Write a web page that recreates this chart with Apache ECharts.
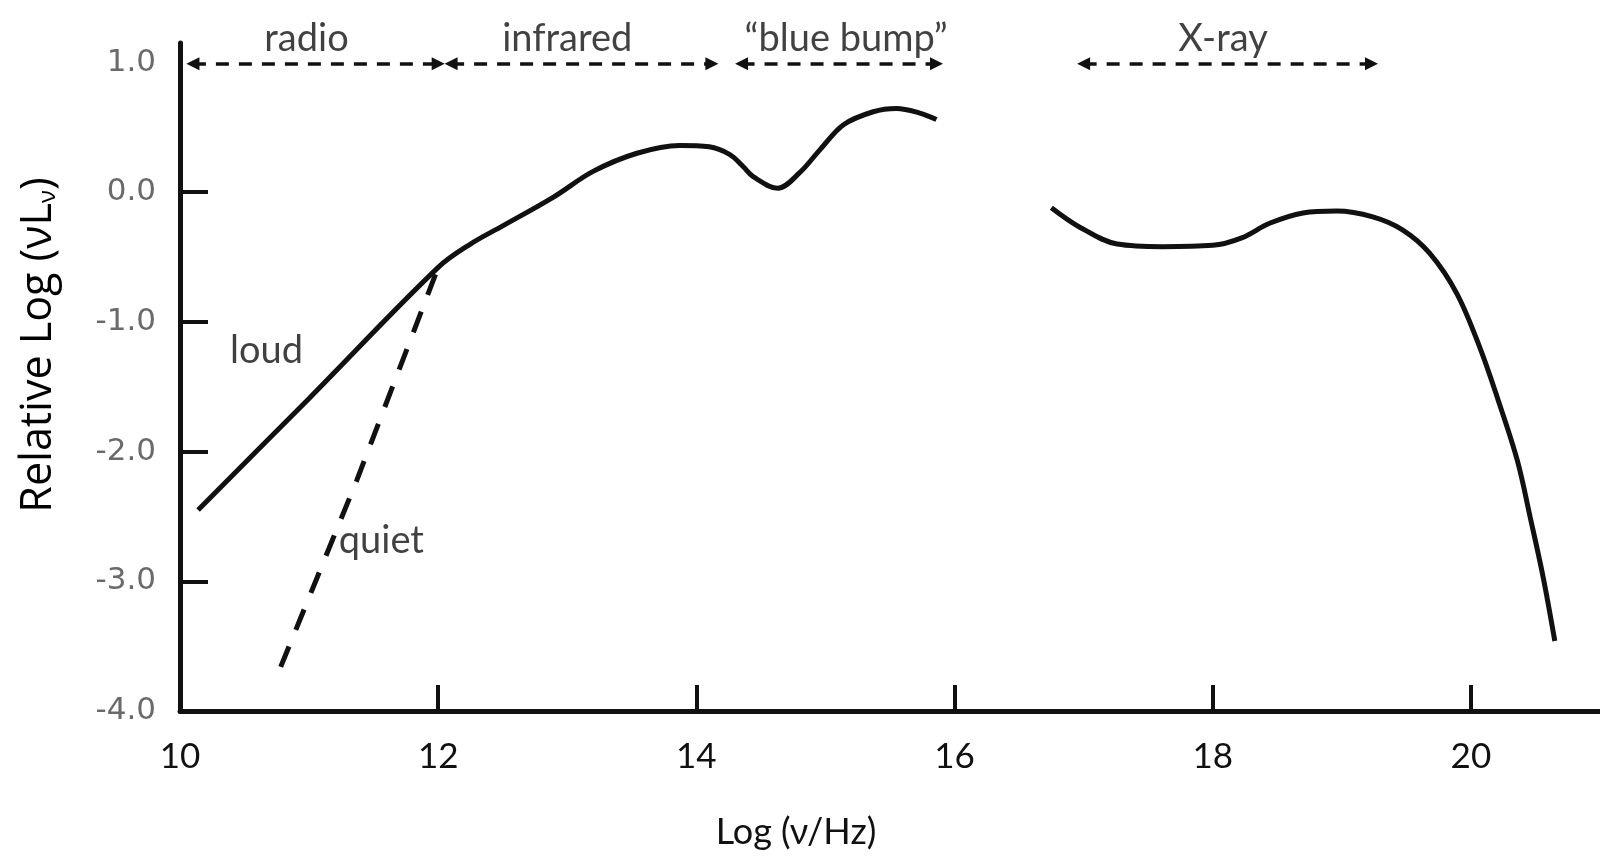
<!DOCTYPE html>
<html><head><meta charset="utf-8">
<script src="https://cdn.jsdelivr.net/npm/echarts@6/dist/echarts.min.js"></script>
<style>html,body{margin:0;padding:0;background:#fff}#c{width:1600px;height:856px}</style>
</head><body><div id="c"></div>
<script>
// Radio-loud continuum + infrared + blue bump (log nu, relative log nuL_nu)
const mainX = [10.14, 11.0, 12.0, 12.25, 12.5, 12.89, 13.2, 13.54, 13.87, 14.1, 14.26, 14.36, 14.44, 14.63, 14.8, 14.96, 15.14, 15.37, 15.55, 15.73, 15.86];
const mainY = [-2.45, -1.59, -0.58, -0.40, -0.26, -0.04, 0.16, 0.30, 0.36, 0.35, 0.29, 0.20, 0.12, 0.03, 0.15, 0.33, 0.52, 0.62, 0.645, 0.61, 0.56];
// Radio-quiet branch
const quietX = [10.78, 11.37, 12.0];
const quietY = [-3.66, -2.22, -0.58];
// X-ray segment
const xrayX = [16.75, 16.97, 17.26, 17.61, 18.0, 18.23, 18.44, 18.7, 18.96, 19.24, 19.47, 19.68, 19.89, 20.07, 20.21, 20.36, 20.46, 20.56, 20.65];
const xrayY = [-0.12, -0.27, -0.40, -0.42, -0.41, -0.35, -0.24, -0.16, -0.145, -0.19, -0.29, -0.47, -0.78, -1.2, -1.6, -2.07, -2.51, -2.97, -3.46];
// Band ranges (double arrows)
const bandStart = [10.1, 12.1, 14.35, 17.0];
const bandEnd = [12.0, 14.12, 15.86, 19.23];
const bandLevel = 0.99;
// Text annotations
const annoText = ['radio', 'infrared', '\u201Cblue bump\u201D', 'X-ray', 'loud', 'quiet'];
const annoX = [10.98, 13.0, 15.16, 18.08, 10.67, 11.56];
const annoY = [1.18, 1.18, 1.18, 1.18, -1.22, -2.69];
// Axis ticks
const xTickLabels = [10, 12, 14, 16, 18, 20];
const xTickMarks = [12, 14, 16, 18, 20];
const yTickLabels = [-4, -3, -2, -1, 0, 1];
const yTickMarks = [-3, -2, -1, 0];

const zip = (a, b) => a.map((v, i) => [v, b[i]]);

const chart = echarts.init(document.getElementById('c'), null, {renderer: 'canvas'});
chart.setOption({
  backgroundColor: '#ffffff',
  animation: false,
  grid: {left: 180, right: 0, top: 43, bottom: 145, containLabel: false},
  xAxis: {
    type: 'value', min: 10, max: 21, interval: 2,
    axisLine: {show: true, onZero: false, lineStyle: {color: '#111', width: 5}},
    axisTick: {show: true, inside: true, length: 26, lineStyle: {color: '#111', width: 4}, customValues: xTickMarks},
    axisLabel: {customValues: xTickLabels, margin: 28, color: '#111', fontFamily: 'Lato', fontSize: 35},
    splitLine: {show: false}
  },
  yAxis: {
    type: 'value', min: -4, max: 1.15, interval: 1,
    axisLine: {show: true, onZero: false, lineStyle: {color: '#111', width: 5}},
    axisTick: {show: true, inside: true, length: 28, lineStyle: {color: '#111', width: 4}, customValues: yTickMarks},
    axisLabel: {customValues: yTickLabels, margin: 24, color: '#6a6a6a', fontFamily: 'DejaVu Sans', fontSize: 31,
      formatter: v => v.toFixed(1)},
    splitLine: {show: false}
  },
  graphic: [
    {type: 'text', x: 33, y: 345, rotation: Math.PI / 2,
      style: {text: '{a|Relative Log (\u03BDL}{s|\u03BD}{a|)}', align: 'center', verticalAlign: 'middle',
        rich: {a: {fontFamily: 'Open Sans', fontSize: 43, color: '#222', verticalAlign: 'bottom', lineHeight: 54},
               s: {fontFamily: 'Open Sans', fontSize: 24, color: '#222', verticalAlign: 'bottom', lineHeight: 44}}}},
    {type: 'text', x: 796, y: 832,
      style: {text: 'Log (\u03BD/Hz)', align: 'center', verticalAlign: 'middle', fontFamily: 'Lato', fontSize: 36, fill: '#111'}}
  ],
  series: [
    {type: 'line', data: zip(mainX, mainY), smooth: 0.35, showSymbol: false, symbol: 'none',
      lineStyle: {color: '#111', width: 5}, z: 3},
    {type: 'line', data: zip(quietX, quietY), smooth: false, showSymbol: false, symbol: 'none',
      lineStyle: {color: '#111', width: 5, type: [22, 18]}, z: 3},
    {type: 'line', data: zip(xrayX, xrayY), smooth: 0.35, showSymbol: false, symbol: 'none',
      lineStyle: {color: '#111', width: 5}, z: 3},
    {type: 'line', data: [], symbol: 'none',
      markLine: {silent: true, symbol: ['triangle', 'triangle'], symbolSize: [13, 13], label: {show: false},
        lineStyle: {color: '#111', width: 3.5, type: [13, 10]},
        emphasis: {disabled: true},
        data: bandStart.map((s, i) => [{coord: [s, bandLevel]}, {coord: [bandEnd[i], bandLevel]}])}},
    {type: 'scatter', data: annoX.map((x, i) => ({value: [x, annoY[i]], name: annoText[i]})),
      symbolSize: 0, clip: false, silent: true,
      label: {show: true, position: 'inside', formatter: p => p.name, color: '#111', fontFamily: 'Lato', fontSize: 38}}
  ]
});
</script></body></html>
